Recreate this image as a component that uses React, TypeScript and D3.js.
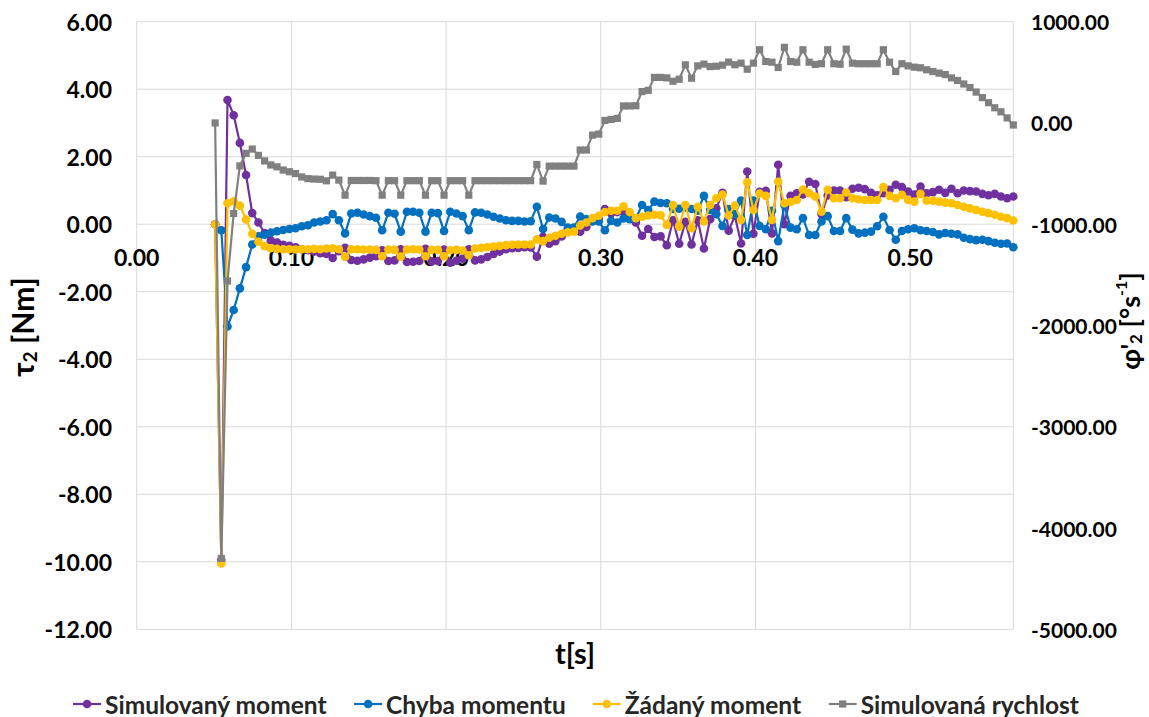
import React from 'react';
import * as d3 from 'd3';

// time samples [s]
const time = [
  0.0507, 0.0547, 0.0587, 0.0627, 0.0667, 0.0707, 0.0747, 0.0787, 0.0827, 0.0867,
  0.0907, 0.0947, 0.0987, 0.1027, 0.1067, 0.1107, 0.1147, 0.1187, 0.1227, 0.1267,
  0.1307, 0.1347, 0.1387, 0.1427, 0.1467, 0.1507, 0.1547, 0.1587, 0.1627, 0.1667,
  0.1707, 0.1747, 0.1787, 0.1827, 0.1867, 0.1907, 0.1947, 0.1987, 0.2027, 0.2067,
  0.2107, 0.2147, 0.2187, 0.2227, 0.2267, 0.2307, 0.2347, 0.2387, 0.2427, 0.2467,
  0.2507, 0.2547, 0.2587, 0.2627, 0.2667, 0.2707, 0.2747, 0.2787, 0.2827, 0.2867,
  0.2907, 0.2947, 0.2987, 0.3027, 0.3067, 0.3107, 0.3147, 0.3187, 0.3227, 0.3267,
  0.3307, 0.3347, 0.3387, 0.3427, 0.3467, 0.3507, 0.3547, 0.3587, 0.3627, 0.3667,
  0.3707, 0.3747, 0.3787, 0.3827, 0.3867, 0.3907, 0.3947, 0.3987, 0.4027, 0.4067,
  0.4107, 0.4147, 0.4187, 0.4227, 0.4267, 0.4307, 0.4347, 0.4387, 0.4427, 0.4467,
  0.4507, 0.4547, 0.4587, 0.4627, 0.4667, 0.4707, 0.4747, 0.4787, 0.4827, 0.4867,
  0.4907, 0.4947, 0.4987, 0.5027, 0.5067, 0.5107, 0.5147, 0.5187, 0.5227, 0.5267,
  0.5307, 0.5347, 0.5387, 0.5427, 0.5467, 0.5507, 0.5547, 0.5587, 0.5627, 0.5667,
];

// Simulovaný moment [Nm]
const simulovanyMoment = [
  0, -9.95, 3.68, 3.23, 2.41, 1.46, 0.33, 0.05, -0.26, -0.48,
  -0.54, -0.61, -0.64, -0.68, -0.74, -0.77, -0.81, -0.86, -0.88, -1.0,
  -0.8, -0.7, -1.06, -1.08, -1.04, -0.99, -0.95, -0.77, -1.09, -1.07,
  -0.74, -1.12, -1.11, -1.09, -0.73, -1.1, -1.09, -0.75, -1.14, -1.08,
  -1.02, -0.74, -1.07, -1.04, -0.97, -0.88, -0.81, -0.74, -0.71, -0.7,
  -0.68, -0.69, -0.96, -0.37, -0.58, -0.5, -0.36, -0.18, -0.14, -0.22,
  -0.08, 0.1, 0.17, 0.45, 0.32, 0.36, 0.38, 0.24, 0.05, -0.34,
  -0.14, -0.38, -0.36, -0.62, 0.12, -0.58, 0.07, -0.6, 0.12, -0.72,
  0.15, 0.47, 0.93, -0.19, 0.25, -0.57, 1.56, -0.28, 0.96, 0.99,
  -0.27, 1.76, 0.0, 0.84, 0.92, 0.88, 1.26, 1.19, 0.3, 0.85,
  1.0, 1.0, 0.8, 1.05, 1.08, 1.04, 0.93, 0.86, 0.92, 1.02,
  1.17, 1.1, 0.97, 0.88, 1.12, 0.92, 0.95, 1.02, 0.93, 1.05,
  0.92, 1.0, 0.98, 0.97, 0.9, 0.86, 0.9, 0.82, 0.77, 0.82,
];

// Chyba momentu [Nm]
const chybaMomentu = [
  0, -0.18, -3.03, -2.54, -1.9, -1.27, -0.6, -0.36, -0.31, -0.25,
  -0.21, -0.17, -0.14, -0.12, -0.06, -0.03, 0.05, 0.08, 0.12, 0.3,
  0.12, -0.27, 0.32, 0.34, 0.29, 0.24, 0.19, -0.18, 0.34, 0.31,
  -0.22, 0.37, 0.37, 0.34, -0.22, 0.34, 0.33, -0.2, 0.37, 0.32,
  0.24, -0.18, 0.35, 0.34, 0.29, 0.22, 0.17, 0.12, 0.1, 0.1,
  0.08, 0.09, 0.52, -0.14, 0.2, 0.17, 0.07, -0.1, -0.1, 0.23,
  0.15, 0.08, 0.08, -0.18, 0.1, 0.05, 0.17, 0.15, 0.17, 0.57,
  0.42, 0.67, 0.63, 0.62, 0.45, 0.46, 0.5, 0.45, 0.4, 0.84,
  0.42, 0.3, -0.05, 0.45, 0.3, 0.7, -0.32, 0.7, -0.05, -0.15,
  0.4, -0.5, 0.57, -0.1, -0.15, 0.18, -0.32, -0.32, 0.08, 0.24,
  -0.2, -0.2, 0.18, -0.16, -0.27, -0.25, -0.22, -0.06, 0.22, -0.17,
  -0.46, -0.2, -0.15, -0.12, -0.18, -0.2, -0.23, -0.3, -0.26, -0.28,
  -0.3, -0.4, -0.44, -0.47, -0.46, -0.5, -0.55, -0.58, -0.57, -0.68,
];

// Žádaný moment [Nm]
const zadanyMoment = [
  0, -10.05, 0.62, 0.68, 0.55, 0.14, -0.28, -0.52, -0.65, -0.71,
  -0.73, -0.74, -0.74, -0.75, -0.74, -0.74, -0.73, -0.74, -0.72, -0.71,
  -0.74, -0.97, -0.74, -0.74, -0.75, -0.75, -0.76, -0.95, -0.75, -0.76,
  -0.96, -0.75, -0.74, -0.75, -0.95, -0.76, -0.76, -0.95, -0.77, -0.76,
  -0.78, -0.92, -0.72, -0.7, -0.68, -0.66, -0.64, -0.62, -0.61, -0.6,
  -0.6, -0.6, -0.45, -0.5, -0.4, -0.34, -0.28, -0.24, -0.22, -0.04,
  0.05, 0.18, 0.25, 0.36, 0.4, 0.4, 0.53, 0.36, 0.18, 0.22,
  0.26, 0.28, 0.27, -0.02, 0.57, -0.07, 0.57, -0.12, 0.52, 0.08,
  0.57, 0.77, 0.88, 0.26, 0.55, 0.13, 1.24, 0.42, 0.91, 0.84,
  0.13, 1.26, 0.62, 0.66, 0.72, 1.03, 0.92, 0.82, 0.37, 1.02,
  0.77, 0.77, 0.94, 0.77, 0.74, 0.72, 0.72, 0.72, 1.1, 0.84,
  0.77, 0.87, 0.72, 0.67, 0.9, 0.7, 0.7, 0.67, 0.64, 0.62,
  0.57, 0.52, 0.47, 0.42, 0.37, 0.33, 0.28, 0.22, 0.18, 0.11,
];

// Simulovaná rychlost [°/s]
const simulovanaRychlost = [
  0, -4300, -1560, -894, -424, -300, -258, -320, -375, -415,
  -433, -465, -482, -500, -533, -550, -554, -556, -571, -515,
  -564, -713, -568, -568, -568, -568, -570, -713, -570, -570,
  -713, -570, -570, -570, -713, -570, -570, -713, -570, -570,
  -570, -713, -570, -570, -570, -570, -570, -570, -570, -570,
  -570, -570, -410, -574, -426, -426, -426, -426, -426, -267,
  -267, -120, -110, 25, 35, 45, 168, 168, 170, 310,
  322, 450, 450, 445, 412, 432, 574, 442, 564, 581,
  557, 560, 571, 601, 575, 591, 531, 591, 723, 607,
  600, 548, 747, 607, 600, 723, 600, 578, 585, 723,
  585, 580, 729, 590, 585, 585, 585, 585, 723, 600,
  508, 585, 564, 551, 545, 525, 508, 492, 478, 445,
  420, 385, 350, 305, 250, 200, 150, 110, 50, -20,
];

const xTicks = [0, 0.1, 0.2, 0.3, 0.4, 0.5];
const leftTicks = [6, 4, 2, 0, -2, -4, -6, -8, -10, -12];
const rightTicks = [1000, 0, -1000, -2000, -3000, -4000, -5000];
const xDomain = [0, 0.5667];
const leftDomain = [-12, 6];
const rightDomain = [-5000, 1000];

const seriesNames = ['Simulovaný moment', 'Chyba momentu', 'Žádaný moment', 'Simulovaná rychlost'];
const seriesColors = ['#7030A0', '#0070C0', '#FFC000', '#808080'];

const W = 1149;
const H = 717;
const plot = { left: 136.7, right: 1013.3, top: 21.7, bottom: 629.3 };
const FONT = 'Lato, "Open Sans", sans-serif';
const LEGEND_FONT = 24.5;
const LEGEND_GAP = 27;
const fmt = (v: number) => v.toFixed(2);

function measure(text: string, size: number): number {
  try {
    const ctx = document.createElement('canvas').getContext('2d');
    if (ctx) {
      ctx.font = `700 ${size}px Lato`;
      return ctx.measureText(text).width;
    }
  } catch (e) {
    /* ignore */
  }
  return text.length * size * 0.52;
}

export default function App() {
  const x = d3.scaleLinear().domain(xDomain).range([plot.left, plot.right]);
  const yL = d3.scaleLinear().domain(leftDomain).range([plot.bottom, plot.top]);
  const yR = d3.scaleLinear().domain(rightDomain).range([plot.bottom, plot.top]);

  const left = [simulovanyMoment, chybaMomentu, zadanyMoment];
  const lineL = d3
    .line<number>()
    .x((_, i) => x(time[i]))
    .y((d) => yL(d));
  const lineR = d3
    .line<number>()
    .x((_, i) => x(time[i]))
    .y((d) => yR(d));

  // legend layout: marker (28) + gap (4) + text, items separated by LEGEND_GAP, centred
  const legendY = 704;
  const widths = seriesNames.map((n) => measure(n, LEGEND_FONT));
  const itemW = widths.map((w) => 32 + w);
  const total = d3.sum(itemW) + LEGEND_GAP * (seriesNames.length - 1);
  const legendStarts: number[] = [];
  let acc = 576 - total / 2;
  itemW.forEach((w) => {
    legendStarts.push(acc);
    acc += w + LEGEND_GAP;
  });

  return (
    <svg
      width={W}
      height={H}
      style={{ position: 'absolute', left: 0, top: 0, background: '#fff' }}
      fontFamily={FONT}
      fontWeight={700}
    >
      {/* gridlines */}
      <g stroke="#d9d9d9" strokeWidth={1}>
        {leftTicks.map((t) => (
          <line key={'h' + t} x1={plot.left} x2={plot.right} y1={yL(t)} y2={yL(t)} />
        ))}
        {xTicks.map((t) => (
          <line key={'v' + t} x1={x(t)} x2={x(t)} y1={plot.top} y2={plot.bottom} />
        ))}
        <line x1={plot.right} x2={plot.right} y1={plot.top} y2={plot.bottom} />
      </g>

      {/* left axis labels */}
      <g fontSize={23} fill="#000" textAnchor="end">
        {leftTicks.map((t) => (
          <text key={'l' + t} x={112} y={yL(t)} dominantBaseline="central">
            {fmt(t)}
          </text>
        ))}
      </g>
      {/* right axis labels */}
      <g fontSize={21} fill="#000" textAnchor="start">
        {rightTicks.map((t) => (
          <text key={'r' + t} x={1031} y={yR(t)} dominantBaseline="central">
            {fmt(t)}
          </text>
        ))}
      </g>
      {/* x axis labels */}
      <g fontSize={23} fill="#000" textAnchor="middle">
        {xTicks.map((t) => (
          <text key={'x' + t} x={x(t)} y={yL(0) + 33} dominantBaseline="central">
            {fmt(t)}
          </text>
        ))}
      </g>

      {/* series on primary axis */}
      {left.map((s, k) => (
        <g key={'s' + k}>
          <path d={lineL(s) || ''} fill="none" stroke={seriesColors[k]} strokeWidth={2.2} />
          {s.map((v, i) => (
            <circle key={i} cx={x(time[i])} cy={yL(v)} r={4.3} fill={seriesColors[k]} />
          ))}
        </g>
      ))}
      {/* series on secondary axis */}
      <g>
        <path d={lineR(simulovanaRychlost) || ''} fill="none" stroke={seriesColors[3]} strokeWidth={2.2} />
        {simulovanaRychlost.map((v, i) => (
          <rect key={i} x={x(time[i]) - 3.6} y={yR(v) - 3.6} width={7.2} height={7.2} fill={seriesColors[3]} />
        ))}
      </g>

      {/* axis titles */}
      <text
        transform={`translate(22,327) rotate(-90)`}
        textAnchor="middle"
        dominantBaseline="central"
        fontSize={30}
        fill="#000"
      >
        τ<tspan fontSize={19} dy={7}>2</tspan>
        <tspan dy={-7}> [Nm]</tspan>
      </text>
      <text
        transform={`translate(1129,321) rotate(-90)`}
        textAnchor="middle"
        dominantBaseline="central"
        fontSize={27}
        fill="#000"
      >
        φ'<tspan fontSize={17} dy={6}>2</tspan>
        <tspan dy={-6}> [°s</tspan>
        <tspan fontSize={16} dy={-9}>-1</tspan>
        <tspan dy={9}>]</tspan>
      </text>
      <text x={575} y={652} textAnchor="middle" dominantBaseline="central" fontSize={29} fill="#000">
        t[s]
      </text>

      {/* legend */}
      {seriesNames.map((name, k) => {
        const sx = legendStarts[k];
        return (
          <g key={'lg' + k}>
            <line x1={sx} x2={sx + 28} y1={legendY} y2={legendY} stroke={seriesColors[k]} strokeWidth={2.2} />
            {k < 3 ? (
              <circle cx={sx + 14} cy={legendY} r={4.3} fill={seriesColors[k]} />
            ) : (
              <rect x={sx + 14 - 3.6} y={legendY - 3.6} width={7.2} height={7.2} fill={seriesColors[k]} />
            )}
            <text x={sx + 32} y={legendY} dominantBaseline="central" fontSize={LEGEND_FONT} fill="#262626">
              {name}
            </text>
          </g>
        );
      })}
    </svg>
  );
}
